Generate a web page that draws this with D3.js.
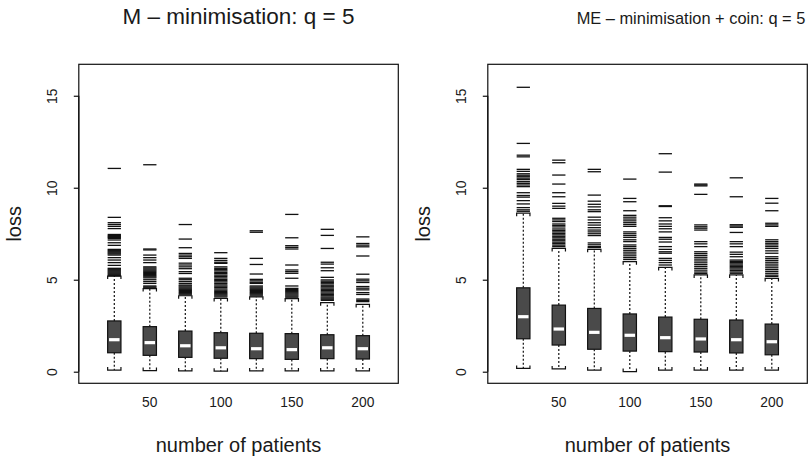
<!DOCTYPE html>
<html>
<head>
<meta charset="utf-8">
<script src="https://cdn.jsdelivr.net/npm/d3@7/dist/d3.min.js"></script>
<style>
  body { margin: 0; background: #ffffff; }
  text { font-family: "Liberation Sans", Arial, Helvetica, sans-serif; fill: #1a1a1a; }
</style>
</head>
<body>
<svg id="chart" width="809" height="464"></svg>
<script>
// Trial sizes (x categories) and the tick labels printed under them
const patients = [25, 50, 75, 100, 125, 150, 175, 200];
const labelledPatients = [50, 100, 150, 200];
const yTicks = [0, 5, 10, 15];

// M – minimisation: five-number summaries per trial size
const mLow  = [0.09, 0.06, 0.04, 0.03, 0.04, 0.04, 0.04, 0.04];
const mQ1   = [1.03, 0.89, 0.78, 0.73, 0.71, 0.67, 0.71, 0.69];
const mMed  = [1.74, 1.58, 1.41, 1.30, 1.25, 1.20, 1.30, 1.25];
const mQ3   = [2.76, 2.45, 2.21, 2.12, 2.09, 2.07, 2.01, 1.96];
const mHigh = [5.20, 4.52, 4.13, 3.98, 4.07, 3.97, 3.75, 3.66];
const mOut = [
  [11.05, 8.39, 8.1, 8.0, 7.9, 7.78, 7.46, 7.4, 7.35, 7.3, 7.25, 7.16, 7.01, 6.87, 6.65, 6.6, 6.55, 6.5, 6.45, 6.4, 6.34, 6.2, 6.07, 5.93, 5.78, 5.62, 5.57, 5.52, 5.47, 5.42, 5.37, 5.32, 5.27, 5.22],
  [11.25, 6.67, 6.62, 6.34, 6.2, 6.07, 5.93, 5.7, 5.64, 5.58, 5.52, 5.46, 5.4, 5.34, 5.28, 5.22, 5.16, 5.1, 5.0, 4.9, 4.8, 4.66, 4.61, 4.56],
  [8.0, 7.21, 6.74, 6.43, 6.34, 6.25, 6.16, 5.9, 5.8, 5.7, 5.6, 5.44, 5.34, 5.08, 5.0, 4.9, 4.8, 4.71, 4.66, 4.6, 4.54, 4.48, 4.42, 4.36, 4.3, 4.24, 4.18],
  [6.47, 6.16, 6.05, 5.95, 5.89, 5.7, 5.62, 5.55, 5.48, 5.4, 5.33, 5.25, 5.18, 5.1, 5.02, 4.95, 4.88, 4.8, 4.72, 4.65, 4.58, 4.5, 4.43, 4.36, 4.3, 4.24, 4.18, 4.12, 4.06],
  [7.66, 7.58, 6.16, 5.83, 5.31, 5.02, 4.94, 4.86, 4.8, 4.66, 4.6, 4.54, 4.48, 4.42, 4.36, 4.3, 4.24, 4.18, 4.12],
  [8.55, 7.28, 6.85, 6.76, 6.67, 5.8, 5.53, 5.44, 5.35, 5.08, 4.66, 4.53, 4.47, 4.41, 4.35, 4.29, 4.23, 4.17, 4.11, 4.05],
  [7.74, 7.41, 6.7, 5.95, 5.85, 5.65, 5.49, 5.13, 4.99, 4.92, 4.85, 4.78, 4.7, 4.62, 4.55, 4.48, 4.41, 4.34, 4.27, 4.2, 4.13, 4.06, 4.0, 3.94, 3.88],
  [7.33, 6.97, 6.88, 6.79, 6.29, 5.3, 5.03, 4.94, 4.85, 4.63, 4.54, 4.45, 4.3, 4.2, 3.95, 3.88, 3.81]
];

// ME – minimisation + coin: five-number summaries per trial size
const meLow  = [0.18, 0.15, 0.09, 0.01, 0.09, 0.09, 0.09, 0.09];
const meQ1   = [1.79, 1.45, 1.22, 1.12, 1.09, 1.07, 1.02, 0.92];
const meMed  = [2.99, 2.32, 2.14, 1.98, 1.85, 1.78, 1.74, 1.63];
const meQ3   = [4.56, 3.62, 3.44, 3.14, 2.97, 2.85, 2.81, 2.59];
const meHigh = [8.62, 6.70, 6.65, 5.98, 5.67, 5.26, 5.26, 5.07];
const meOut = [
  [15.46, 12.41, 11.77, 11.68, 11.0, 10.89, 10.76, 10.68, 10.6, 10.52, 10.44, 10.33, 10.24, 10.15, 10.06, 9.73, 9.58, 9.49, 9.3, 9.12, 8.92, 8.8, 8.72],
  [11.5, 11.36, 10.69, 10.2, 9.73, 9.51, 9.15, 9.0, 8.88, 8.34, 8.25, 8.16, 8.03, 7.95, 7.87, 7.76, 7.68, 7.6, 7.52, 7.44, 7.36, 7.28, 7.2, 7.12, 7.04, 6.96, 6.88, 6.8],
  [11.0, 10.87, 9.6, 9.27, 9.1, 8.96, 8.8, 8.7, 8.4, 8.25, 8.1, 7.97, 7.83, 7.7, 7.6, 7.5, 7.4, 7.0, 6.9, 6.8, 6.75],
  [10.47, 9.42, 9.24, 8.75, 8.5, 8.4, 8.3, 8.2, 8.1, 8.0, 7.9, 7.6, 7.5, 7.4, 7.3, 7.17, 7.07, 6.89, 6.8, 6.7, 6.6, 6.5, 6.4, 6.3, 6.2, 6.1],
  [11.85, 10.85, 9.02, 8.98, 8.37, 8.2, 8.03, 7.9, 7.77, 7.6, 7.3, 7.2, 7.05, 6.8, 6.65, 6.52, 6.44, 6.16, 6.05, 5.93, 5.8],
  [10.2, 10.15, 10.1, 9.64, 7.98, 7.88, 7.8, 7.7, 7.07, 6.95, 6.8, 6.52, 6.42, 6.32, 6.22, 6.12, 6.02, 5.92, 5.82, 5.72, 5.62, 5.52, 5.42, 5.34],
  [10.54, 9.51, 7.99, 7.92, 7.85, 7.57, 7.07, 6.95, 6.8, 6.5, 6.38, 6.25, 6.07, 6.0, 5.93, 5.86, 5.79, 5.72, 5.65, 5.58, 5.5, 5.42, 5.35],
  [9.42, 9.16, 8.75, 8.07, 7.98, 7.9, 7.17, 7.07, 6.98, 6.89, 6.8, 6.7, 6.57, 6.44, 6.25, 6.15, 6.05, 5.95, 5.85, 5.75, 5.65, 5.55, 5.45, 5.35, 5.25, 5.18]
];

const panelTitles = ["M \u2013 minimisation: q = 5", "ME \u2013 minimisation + coin: q = 5"];
const xTitle = "number of patients";
const yTitle = "loss";

// ---- layout ----
const plotW = 319.5, plotTop = 64.3, plotBottom = 383.3;
const panels = [
  { left: 78.8,  title: panelTitles[0], titleX: null, titleSize: 22.5,
    low: mLow, q1: mQ1, med: mMed, q3: mQ3, high: mHigh, out: mOut },
  { left: 487.8, title: panelTitles[1], titleX: 691, titleSize: 16.4,
    low: meLow, q1: meQ1, med: meMed, q3: meQ3, high: meHigh, out: meOut }
];

const svg = d3.select("#chart");
const boxHalf = 6.65, capTick = 3;

const y = d3.scaleLinear().domain([-0.63, 16.71]).range([plotBottom, plotTop]);

panels.forEach(p => {
  const x = d3.scalePoint().domain(patients).range([p.left, p.left + plotW]).padding(1);
  const g = svg.append("g");
  const cx = p.left + plotW / 2;

  const rows = patients.map((n, i) => ({
    n, low: p.low[i], q1: p.q1[i], med: p.med[i], q3: p.q3[i], high: p.high[i], out: p.out[i]
  }));

  const box = g.selectAll("g.box").data(rows).join("g").attr("class", "box");

  // dotted whiskers
  box.append("line")
    .attr("x1", d => x(d.n)).attr("x2", d => x(d.n))
    .attr("y1", d => y(d.q3)).attr("y2", d => y(d.high))
    .attr("stroke", "#111").attr("stroke-width", 1.2).attr("stroke-dasharray", "2,2");
  box.append("line")
    .attr("x1", d => x(d.n)).attr("x2", d => x(d.n))
    .attr("y1", d => y(d.q1)).attr("y2", d => y(d.low))
    .attr("stroke", "#111").attr("stroke-width", 1.2).attr("stroke-dasharray", "2,2");

  // bracket-shaped staples at whisker ends
  box.append("path")
    .attr("d", d => `M${x(d.n) - boxHalf},${y(d.high) + capTick}V${y(d.high)}H${x(d.n) + boxHalf}V${y(d.high) + capTick}`)
    .attr("fill", "none").attr("stroke", "#111").attr("stroke-width", 1.2);
  box.append("path")
    .attr("d", d => `M${x(d.n) - boxHalf},${y(d.low) - capTick}V${y(d.low)}H${x(d.n) + boxHalf}V${y(d.low) - capTick}`)
    .attr("fill", "none").attr("stroke", "#111").attr("stroke-width", 1.2);

  // outliers drawn as short dashes
  box.selectAll("line.out").data(d => d.out.map(v => ({ n: d.n, v }))).join("line")
    .attr("class", "out")
    .attr("x1", d => x(d.n) - boxHalf).attr("x2", d => x(d.n) + boxHalf)
    .attr("y1", d => y(d.v)).attr("y2", d => y(d.v))
    .attr("stroke", "#111").attr("stroke-width", 1.3);

  // interquartile boxes
  box.append("rect")
    .attr("x", d => x(d.n) - boxHalf).attr("width", boxHalf * 2)
    .attr("y", d => y(d.q3)).attr("height", d => y(d.q1) - y(d.q3))
    .attr("fill", "#4a4a4a").attr("stroke", "#111").attr("stroke-width", 1.2);

  // medians in white
  box.append("line")
    .attr("x1", d => x(d.n) - boxHalf + 1.4).attr("x2", d => x(d.n) + boxHalf - 1.4)
    .attr("y1", d => y(d.med)).attr("y2", d => y(d.med))
    .attr("stroke", "#ffffff").attr("stroke-width", 3.2);

  // frame
  g.append("rect")
    .attr("x", p.left).attr("y", plotTop).attr("width", plotW).attr("height", plotBottom - plotTop)
    .attr("fill", "none").attr("stroke", "#111").attr("stroke-width", 1.2);

  // y axis with labels parallel to the axis
  const ya = g.append("g").attr("transform", `translate(${p.left},0)`)
    .call(d3.axisLeft(y).tickValues(yTicks).tickSize(5).tickSizeOuter(0));
  ya.select(".domain").remove();
  ya.selectAll(".tick line").attr("stroke", "#111").attr("stroke-width", 1.2);
  ya.selectAll(".tick text")
    .attr("x", 0).attr("y", -22.1).attr("dy", 0)
    .attr("transform", "rotate(-90)")
    .attr("text-anchor", "middle")
    .style("font-size", "13.8px")
    .style("font-family", "\"Liberation Sans\", Arial, Helvetica, sans-serif")
    .attr("fill", "#1a1a1a");
  g.append("line")
    .attr("x1", p.left).attr("x2", p.left)
    .attr("y1", y(yTicks[0])).attr("y2", y(yTicks[yTicks.length - 1]))
    .attr("stroke", "#111").attr("stroke-width", 1.2);

  // x tick labels (every second size)
  g.selectAll("text.xl").data(labelledPatients).join("text")
    .attr("class", "xl")
    .attr("x", d => x(d)).attr("y", 407)
    .attr("text-anchor", "middle")
    .style("font-size", "13.8px")
    .text(d => d);

  // axis titles
  g.append("text")
    .attr("x", cx).attr("y", 452)
    .attr("text-anchor", "middle").style("font-size", "20px")
    .text(xTitle);
  g.append("text")
    .attr("transform", `translate(${p.left - 57.5},${(plotTop + plotBottom) / 2}) rotate(-90)`)
    .attr("text-anchor", "middle").style("font-size", "20px")
    .text(yTitle);

  // panel title
  g.append("text")
    .attr("x", p.titleX == null ? cx : p.titleX).attr("y", 23.5)
    .attr("text-anchor", "middle").style("font-size", p.titleSize + "px")
    .text(p.title);
});
</script>
</body>
</html>
